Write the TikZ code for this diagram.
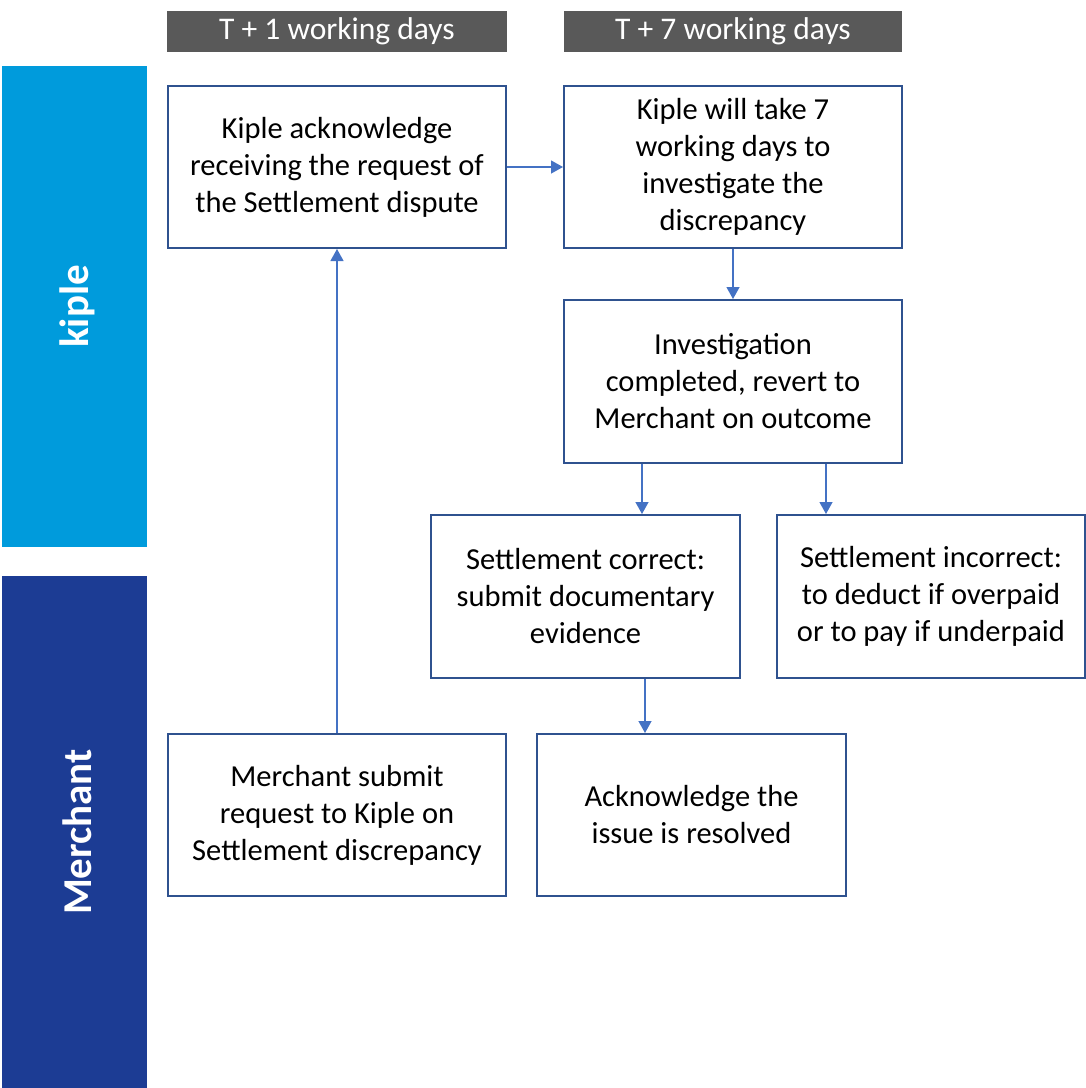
\documentclass[tikz,border=0pt]{standalone}
\usepackage{fontspec}
\setmainfont{Carlito}
\usetikzlibrary{arrows.meta}
\definecolor{laneA}{RGB}{0,155,220}
\definecolor{laneB}{RGB}{28,60,148}
\definecolor{hdr}{RGB}{89,89,89}
\definecolor{bord}{RGB}{47,82,143}
\definecolor{arr}{RGB}{68,114,196}
\tikzset{
  box/.style={draw=bord, line width=2pt, fill=white, inner sep=0pt, align=center,
    font=\fontsize{30.5}{37}\selectfont, execute at begin node={\rule{0pt}{30pt}}},
  hbar/.style={fill=hdr, inner sep=0pt, text=white, font=\fontsize{31.5}{36}\selectfont,
    minimum height=41pt},
  lane/.style={fill=#1, inner sep=0pt},
  lanetext/.style={rotate=90, text=white, font=\bfseries\fontsize{41}{46}\selectfont},
  flow/.style={draw=arr, line width=1.3pt, -{Triangle[length=12pt,width=13pt]}}
}
\begin{document}
\begin{tikzpicture}[x=1pt,y=-1pt]
\useasboundingbox (0,0) rectangle (1086,1088);
% header bars
\node[hbar, minimum width=340pt] (h1) at (337,31.5) {\raisebox{-4.5pt}{T + 1 working days}};
\node[hbar, minimum width=338pt] (h2) at (733,31.5) {\raisebox{-4.5pt}{T + 7 working days}};
% lanes
\node[lane=laneA, minimum width=145pt, minimum height=481pt] (l1) at (74.5,306.5) {};
\node[lanetext] (l1t) at (77.5,306.5) {kiple};
\node[lane=laneB, minimum width=145pt, minimum height=512pt] (l2) at (74.5,832) {};
\node[lanetext] (l2t) at (77.5,832) {Merchant};
% boxes
\node[box, minimum width=338pt, minimum height=162pt] (a) at (337,167)
  {Kiple acknowledge\\receiving the request of\\the Settlement dispute};
\node[box, minimum width=338pt, minimum height=162pt] (b) at (733,167)
  {Kiple will take 7\\working days to\\investigate the\\discrepancy};
\node[box, minimum width=338pt, minimum height=163pt] (c) at (733,381.5)
  {Investigation\\completed, revert to\\Merchant on outcome};
\node[box, minimum width=309pt, minimum height=163pt] (d) at (585.5,596.5)
  {Settlement correct:\\submit documentary\\evidence};
\node[box, minimum width=308pt, minimum height=163pt] (e) at (931,596.5)
  {Settlement incorrect:\\to deduct if overpaid\\or to pay if underpaid};
\node[box, minimum width=338pt, minimum height=162pt] (f) at (337,815)
  {Merchant submit\\request to Kiple on\\Settlement discrepancy};
\node[box, minimum width=309pt, minimum height=162pt] (g) at (691.5,815)
  {Acknowledge the\\issue is resolved};
% connectors
\draw[flow] (a.east) -- (b.west);
\draw[flow] (b.south) -- (c.north);
\draw[flow] ([xshift=-91pt]c.south) -- ([xshift=56.5pt]d.north);
\draw[flow] ([xshift=93pt]c.south) -- ([xshift=-105pt]e.north);
\draw[flow] ([xshift=59.5pt]d.south) -- ([xshift=-46.5pt]g.north);
\draw[flow] (f.north) -- (a.south);
\end{tikzpicture}
\end{document}
